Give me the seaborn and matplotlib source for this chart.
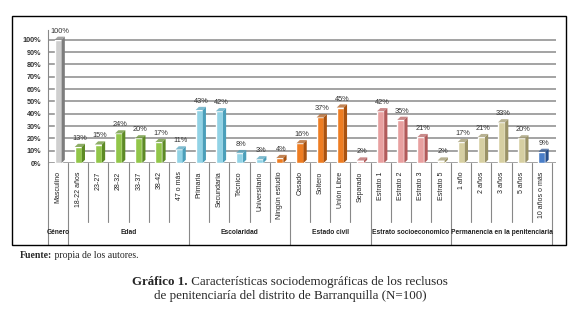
import pandas as pd
import matplotlib.pyplot as plt
import seaborn as sns
from matplotlib.patches import Polygon, Rectangle
from matplotlib.transforms import blended_transform_factory

# Data
categories = ["Masculino", "18-22 años", "23-27", "28-32", "33-37", "38-42", "47 o más",
              "Primaria", "Secundaria", "Técnico", "Universitario", "Ningún estudio",
              "Casado", "Soltero", "Unión Libre", "Separado",
              "Estrato 1", "Estrato 2", "Estrato 3", "Estrato 5",
              "1 año", "2 años", "3 años", "5 años", "10 años o más"]
percentages = [100, 13, 15, 24, 20, 17, 11, 43, 42, 8, 3, 4, 16, 37, 45, 2,
               42, 35, 21, 2, 17, 21, 33, 20, 9]
groups = ["Género", "Edad", "Escolaridad", "Estado civil",
          "Estrato socioeconomico", "Permanencia en la penitenciaria"]
group_sizes = [1, 6, 5, 4, 4, 5]
y_ticks = list(range(0, 101, 10))

# Colours (the original series colours run one bar off the groups)
face = {"gray": ("#cfcfcf", "#7d7d7d"), "green": ("#92c64a", "#5d8a25"),
        "lblue": ("#92d3e6", "#4b9fba"), "orange": ("#ee7d22", "#a9520f"),
        "pink": ("#e8a0a0", "#b25a5a"), "tan": ("#d6cfa2", "#9a9266"),
        "blue": ("#4a7ec8", "#274f8c")}
color_runs = [("gray", 1), ("green", 5), ("lblue", 5), ("orange", 4),
              ("pink", 4), ("tan", 5), ("blue", 1)]
bar_keys = [k for k, n in color_runs for _ in range(n)]

sns.set_theme(style="white")
plt.rcParams['font.family'] = ['Liberation Sans', 'DejaVu Sans']

W, H = 580, 323
fig = plt.figure(figsize=(W / 100, H / 100), dpi=100)
def fx(px): return px / W
def fy(py): return 1 - py / H

ax = fig.add_axes([fx(48), fy(163), fx(556) - fx(48), fy(30) - fy(163)])

df = pd.DataFrame({"Categoria": categories, "Porcentaje": percentages})
sns.barplot(data=df, x="Categoria", y="Porcentaje", hue="Categoria",
            palette=[face[k][0] for k in bar_keys], width=0.35, saturation=1,
            legend=False, ax=ax, zorder=3)

# fake 3D: side and top faces
d, dy = 0.16, 2.6
bars = sorted(ax.patches, key=lambda p: p.get_x())
for p, key, v in zip(bars, bar_keys, percentages):
    x0, w, h = p.get_x(), p.get_width(), p.get_height()
    ax.add_patch(Polygon([(x0 + w, 0), (x0 + w + d, dy), (x0 + w + d, h + dy), (x0 + w, h)],
                         closed=True, fc=face[key][1], ec="none", zorder=3))
    ax.add_patch(Polygon([(x0, h), (x0 + d, h + dy), (x0 + w + d, h + dy), (x0 + w, h)],
                         closed=True, fc=face[key][1], ec="none", alpha=0.7, zorder=3))
    ax.text(x0 + (w + d) / 2, h + dy + 1.5, f"{v}%", ha="center", va="bottom",
            fontsize=5.3, color="#333333")

ax.set_xlim(-0.5, 24.7)
ax.set_ylim(0, 108)
ax.set_yticks(y_ticks)
ax.set_yticklabels([f"{v}%" for v in y_ticks], fontsize=5.2, fontweight="bold", color="#333333")
ax.yaxis.grid(True, color="#9c9c9c", lw=1.3)
ax.set_axisbelow(True)
ax.tick_params(axis="y", length=2, pad=3, color="#888888")
ax.tick_params(axis="x", length=0, pad=6)
ax.set_xticks(range(len(categories)))
ax.set_xticklabels(categories, rotation=90, fontsize=5, color="#222222")
ax.set_xlabel("")
ax.set_ylabel("")
for s in ["top", "right", "bottom"]:
    ax.spines[s].set_visible(False)
ax.spines["left"].set_color("#888888")
ax.spines["left"].set_linewidth(0.8)

# category separators and group labels below the axis
trans = blended_transform_factory(ax.transData, fig.transFigure)
bounds = [-0.5]
for n in group_sizes:
    bounds.append(bounds[-1] + n)
for i in range(len(categories) + 1):
    xb = i - 0.5
    bottom = 245 if xb in bounds else 222
    ax.plot([xb, xb], [fy(163), fy(bottom)], transform=trans, color="#888888",
            lw=0.8, clip_on=False)
for g, a, b in zip(groups, bounds[:-1], bounds[1:]):
    ax.text((a + b) / 2, fy(233), g, transform=trans, ha="center", va="center",
            fontsize=4.8, fontweight="bold", color="#222222")

# frame around the chart
fig.add_artist(Rectangle((fx(12), fy(245)), fx(566) - fx(12), fy(16) - fy(245),
                         transform=fig.transFigure, fill=False, ec="black", lw=1))

# source and caption
serif = ["Liberation Serif", "DejaVu Serif"]
t = fig.text(fx(20), fy(260), "Fuente:", fontsize=7, fontweight="bold", family=serif, va="bottom")
ax.annotate(" propia de los autores.", xy=(1, 0), xycoords=t, va="bottom",
            fontsize=7, family=serif, annotation_clip=False)

renderer = fig.canvas.get_renderer()
b1 = fig.text(0, fy(288), "Gráfico 1.", fontsize=9.4, fontweight="bold", family=serif, va="bottom")
r1 = fig.text(0, fy(288), " Características sociodemográficas de los reclusos",
              fontsize=9.4, family=serif, va="bottom")
w1 = b1.get_window_extent(renderer).width
w2 = r1.get_window_extent(renderer).width
x0 = 290 - (w1 + w2) / 2
b1.set_x(fx(x0))
r1.set_x(fx(x0 + w1))
fig.text(fx(290), fy(302), "de penitenciaría del distrito de Barranquilla (N=100)",
         fontsize=9.4, family=serif, ha="center", va="bottom")

fig.savefig("out.png", dpi=100)
